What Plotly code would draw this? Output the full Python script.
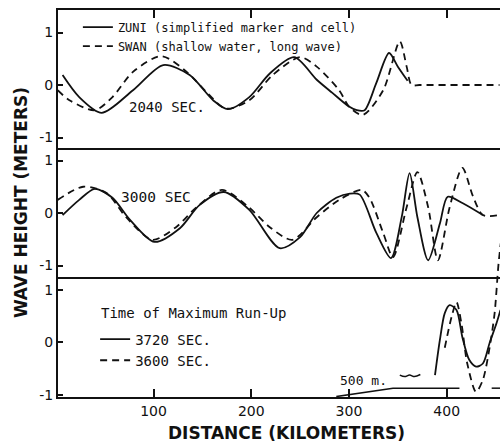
import plotly.graph_objects as go

# ---- t = 2040 s (top panel) ----
km_zuni_2040 = [7, 24, 47, 79, 110, 137, 161, 176, 198, 219, 244, 267, 283, 300, 308, 316, 328, 341, 350, 360]
h_zuni_2040 = [0.19, -0.23, -0.53, -0.10, 0.38, 0.19, -0.29, -0.46, -0.23, 0.22, 0.53, 0.10, -0.15, -0.41, -0.48, -0.48, 0.04, 0.61, 0.35, 0.08]
km_swan_2040 = [2, 14, 40, 58, 79, 108, 134, 155, 174, 198, 222, 250, 267, 290, 300, 314, 335, 352, 359, 364, 372, 454]
h_swan_2040 = [-0.10, -0.29, -0.48, -0.23, 0.25, 0.55, 0.25, -0.15, -0.45, -0.29, 0.19, 0.53, 0.35, -0.10, -0.41, -0.57, -0.10, 0.83, 0.35, 0.0, 0.0, 0.0]

# ---- t = 3000 s (middle panel) ----
km_zuni_3000 = [7, 24, 40, 58, 76, 101, 127, 147, 172, 198, 229, 250, 267, 287, 301, 311, 328, 343, 354, 362, 370, 381, 393, 401, 416, 437]
h_zuni_3000 = [-0.04, 0.25, 0.46, 0.29, -0.13, -0.55, -0.29, 0.15, 0.40, 0.06, -0.67, -0.46, 0.0, 0.29, 0.37, 0.35, -0.38, -0.86, -0.07, 0.76, -0.08, -0.90, -0.20, 0.31, 0.19, -0.04]
km_swan_3000 = [2, 28, 52, 72, 99, 123, 144, 170, 198, 219, 242, 267, 290, 313, 321, 335, 345, 359, 370, 381, 391, 403, 416, 427, 437, 454]
h_swan_3000 = [0.25, 0.50, 0.38, -0.08, -0.51, -0.27, 0.11, 0.44, 0.10, -0.27, -0.51, -0.08, 0.25, 0.44, 0.29, -0.38, -0.84, 0.11, 0.78, 0.11, -0.90, 0.11, 0.86, 0.31, -0.04, -0.04]

# ---- time of maximum run-up (bottom panel) ----
km_zuni_3720 = [388, 393, 398, 403, 410, 416, 423, 430, 437, 444, 451, 455]
h_zuni_3720 = [-0.62, 0.05, 0.56, 0.71, 0.62, 0.10, -0.33, -0.46, -0.40, 0.0, 0.37, 0.62]
km_swan_3600 = [398, 405, 410, 415, 421, 430, 437, 444, 449, 453, 456]
h_swan_3600 = [-0.10, 0.49, 0.77, 0.37, -0.40, -0.94, -0.71, -0.08, 0.56, 1.5, 2.0]

# sketch of the shelf profile and the 500 m depth scale mark
km_shelf = [287, 345, 413, None, 446, 456]
y_shelf = [-1.03, -0.87, -0.87, None, -0.87, -0.87]
km_scale = [352, 357, 362, 367, 373]
y_scale = [-0.62, -0.65, -0.62, -0.65, -0.61]

x_ticks = [100, 200, 300, 400]
x_ticktext = ["100", "200", "300", "400"]
y_ticks = [-1, 0, 1]
y_ticktext = ["-1", "0", "1"]

INK = "#111111"
FONT = "DejaVu Sans"
LETTER = "DejaVu Sans Mono"
LW = 1.8
DASH = "7px,5px"

fig = go.Figure()

def curve(x, y, xa, ya, dashed, name=None, legend=None, show=False):
    fig.add_trace(go.Scatter(
        x=x, y=y, xaxis=xa, yaxis=ya, mode="lines",
        line=dict(color=INK, width=LW, dash=DASH if dashed else "solid",
                  shape="spline", smoothing=0.8),
        name=name, legend=legend, showlegend=show, hoverinfo="skip"))

curve(km_zuni_2040, h_zuni_2040, "x", "y", False, "ZUNI (simplified marker and cell)", "legend", True)
curve(km_swan_2040, h_swan_2040, "x", "y", True, "SWAN (shallow water, long wave)", "legend", True)
curve(km_zuni_3000, h_zuni_3000, "x2", "y2", False)
curve(km_swan_3000, h_swan_3000, "x2", "y2", True)
curve(km_zuni_3720, h_zuni_3720, "x3", "y3", False, "3720 SEC.", "legend2", True)
curve(km_swan_3600, h_swan_3600, "x3", "y3", True, "3600 SEC.", "legend2", True)

fig.add_trace(go.Scatter(x=km_shelf, y=y_shelf, xaxis="x3", yaxis="y3", mode="lines",
                         line=dict(color=INK, width=1.5), showlegend=False, hoverinfo="skip"))
fig.add_trace(go.Scatter(x=km_scale, y=y_scale, xaxis="x3", yaxis="y3", mode="lines",
                         line=dict(color=INK, width=1.5, shape="spline"), showlegend=False, hoverinfo="skip"))

XR = [2.3, 454.5]
tickfont = dict(family=FONT, size=14, color=INK)
xcommon = dict(range=XR, showgrid=False, zeroline=False, ticks="inside", ticklen=8,
               tickwidth=1.5, tickcolor=INK, tickvals=x_ticks, ticktext=x_ticktext,
               linecolor=INK, linewidth=2, tickfont=tickfont)
ycommon = dict(showgrid=False, zeroline=False, ticks="inside", ticklen=5, tickwidth=1.5,
               tickcolor=INK, tickvals=y_ticks, ticktext=y_ticktext, showline=True,
               linecolor=INK, linewidth=2, tickfont=tickfont)

fig.update_layout(
    width=500, height=447,
    margin=dict(l=58, r=0, t=10, b=50),
    paper_bgcolor="white", plot_bgcolor="rgba(0,0,0,0)",
    font=dict(family=FONT, color=INK, size=12),
    xaxis=dict(xcommon, anchor="y", side="top", showticklabels=False, showline=True),
    xaxis2=dict(xcommon, anchor="y2", visible=False),
    xaxis3=dict(xcommon, anchor="y3", side="bottom", showline=True),
    yaxis=dict(ycommon, anchor="x", domain=[0.6408, 1.0], range=[-1.219, 1.4286]),
    yaxis2=dict(ycommon, anchor="x2", domain=[0.3075, 0.6408], range=[-1.238, 1.219]),
    yaxis3=dict(ycommon, anchor="x3", domain=[0.0, 0.4057], range=[-1.038, 1.952]),
    legend=dict(x=0.045, y=0.993, xanchor="left", yanchor="top", bgcolor="rgba(0,0,0,0)",
                font=dict(family=LETTER, size=12, color=INK), tracegroupgap=0, itemwidth=30),
    legend2=dict(x=0.084, y=0.19, xanchor="left", yanchor="top", bgcolor="rgba(0,0,0,0)",
                 font=dict(family=LETTER, size=14, color=INK), itemwidth=30),
    shapes=[
        dict(type="line", xref="paper", yref="paper", x0=0, x1=1, y0=0.6408, y1=0.6408,
             line=dict(color=INK, width=2)),
        dict(type="line", xref="paper", yref="paper", x0=0, x1=1, y0=0.3075, y1=0.3075,
             line=dict(color=INK, width=2)),
    ],
    annotations=[
        dict(text="2040 SEC.", x=114, y=-0.42, xref="x", yref="y", showarrow=False,
             font=dict(family=LETTER, size=14, color=INK)),
        dict(text="3000 SEC", x=103, y=0.30, xref="x2", yref="y2", showarrow=False,
             font=dict(family=LETTER, size=14.5, color=INK)),
        dict(text="Time of Maximum Run-Up", x=44.7, y=0.56, xref="x3", yref="y3",
             xanchor="left", yanchor="middle", showarrow=False,
             font=dict(family=LETTER, size=14, color=INK)),
        dict(text="500 m.", x=315, y=-0.73, xref="x3", yref="y3", showarrow=False,
             font=dict(family=LETTER, size=13, color=INK)),
        dict(text="<b>WAVE HEIGHT (METERS)</b>", x=-0.0837, y=0.501, xref="paper", yref="paper",
             xanchor="center", yanchor="middle", textangle=-90, showarrow=False,
             font=dict(family=FONT, size=17, color=INK)),
        dict(text="<b>DISTANCE (KILOMETERS)</b>", x=0.516, y=-0.093, xref="paper", yref="paper",
             xanchor="center", yanchor="middle", showarrow=False,
             font=dict(family=FONT, size=17, color=INK)),
    ],
)

fig.write_html("out.html")
